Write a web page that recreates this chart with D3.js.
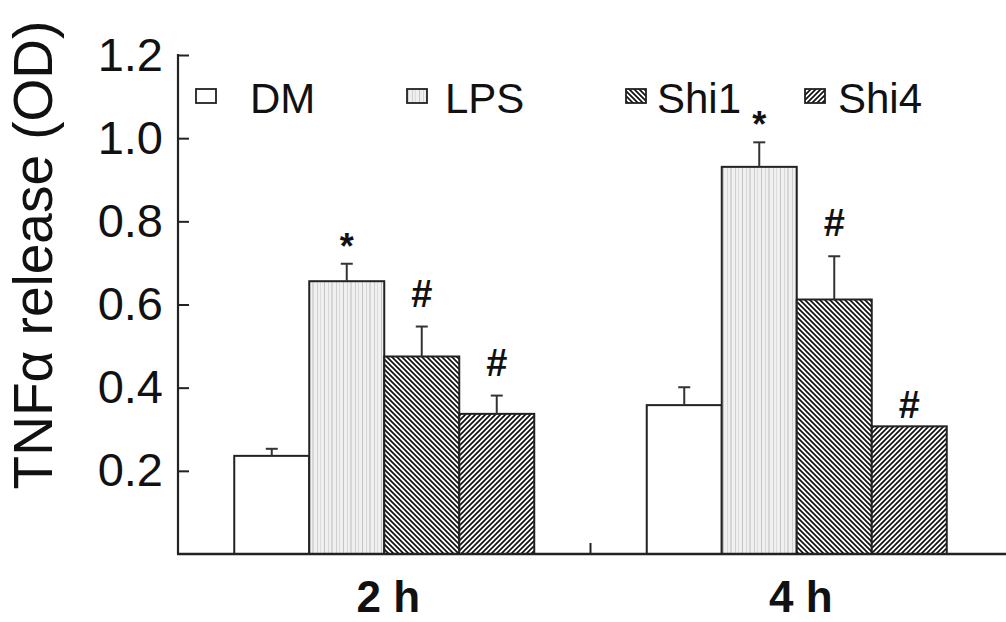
<!DOCTYPE html>
<html><head><meta charset="utf-8">
<script src="https://cdn.jsdelivr.net/npm/d3@7"></script>
<style>
body{margin:0;background:#fff}
svg{display:block}
text{font-family:"Liberation Sans",Arial,sans-serif;fill:#111}
</style>
</head><body>
<svg id="chart" width="1006" height="622"></svg>
<script>
// ---- data ----
const categories = ["2 h", "4 h"];
const seriesNames = ["DM", "LPS", "Shi1", "Shi4"];
const dmValues   = [0.236, 0.358];
const lpsValues  = [0.656, 0.931];
const shi1Values = [0.475, 0.612];
const shi4Values = [0.337, 0.307];
const dmErrors   = [0.017, 0.043];
const lpsErrors  = [0.042, 0.059];
const shi1Errors = [0.072, 0.104];
const shi4Errors = [0.044, 0.0];
const dmMarks    = ["", ""];
const lpsMarks   = ["*", "*"];
const shi1Marks  = ["#", "#"];
const shi4Marks  = ["#", "#"];
const yTickValues = [0.2, 0.4, 0.6, 0.8, 1.0, 1.2];
const yTitle = "TNFα release (OD)";

const valuesBySeries = [dmValues, lpsValues, shi1Values, shi4Values];
const errorsBySeries = [dmErrors, lpsErrors, shi1Errors, shi4Errors];
const marksBySeries  = [dmMarks, lpsMarks, shi1Marks, shi4Marks];
const fills = ["#ffffff", "url(#pLPS)", "url(#pShi1)", "url(#pShi4)"];

const rows = [];
categories.forEach((c, ci) => seriesNames.forEach((s, si) => rows.push({
  cat: c, series: s, si, value: valuesBySeries[si][ci], err: errorsBySeries[si][ci], mark: marksBySeries[si][ci]
})));

// ---- layout ----
const svg = d3.select("#chart");
const mLeft = 178, mRight = 1003, mTop = 55, mBottom = 554;

const y = d3.scaleLinear().domain([0, 1.2]).range([mBottom, mTop]);
const x0 = d3.scaleBand().domain(categories).range([mLeft, mRight]).padding(0);
const x1 = d3.scaleBand().domain(seriesNames).range([0, x0.bandwidth()]).paddingInner(0).paddingOuter(0.75);

// ---- patterns ----
const defs = svg.append("defs");
const pL = defs.append("pattern").attr("id", "pLPS").attr("patternUnits", "userSpaceOnUse")
  .attr("width", 19).attr("height", 10);
pL.append("rect").attr("width", 19).attr("height", 10).attr("fill", "#f0f0f0");
[[1.5, "#c4c4c4"], [5.5, "#d6d6d6"], [9, "#bdbdbd"], [13.5, "#cfcfcf"], [16.5, "#dcdcdc"]].forEach(([px, col]) =>
  pL.append("line").attr("x1", px).attr("x2", px).attr("y1", 0).attr("y2", 10).attr("stroke", col).attr("stroke-width", 1));

const p1 = defs.append("pattern").attr("id", "pShi1").attr("patternUnits", "userSpaceOnUse")
  .attr("width", 5).attr("height", 5);
p1.append("rect").attr("width", 5).attr("height", 5).attr("fill", "#fff");
p1.append("path").attr("d", "M-1,-1L6,6M-1,4L1,6M4,-1L6,1").attr("stroke", "#111").attr("stroke-width", 1.7);

const p4 = defs.append("pattern").attr("id", "pShi4").attr("patternUnits", "userSpaceOnUse")
  .attr("width", 5).attr("height", 5);
p4.append("rect").attr("width", 5).attr("height", 5).attr("fill", "#fff");
p4.append("path").attr("d", "M-1,6L6,-1M-1,1L1,-1M4,6L6,4").attr("stroke", "#111").attr("stroke-width", 1.7);

// ---- bars ----
const barG = svg.append("g");
barG.selectAll("rect.bar").data(rows).join("rect").attr("class", "bar")
  .attr("x", d => x0(d.cat) + x1(d.series))
  .attr("y", d => y(d.value))
  .attr("width", x1.bandwidth())
  .attr("height", d => y(0) - y(d.value))
  .attr("fill", d => fills[d.si])
  .attr("stroke", "#222").attr("stroke-width", 2);

// error bars
const errRows = rows.filter(d => d.err > 0);
const cx = d => x0(d.cat) + x1(d.series) + x1.bandwidth() / 2;
barG.selectAll("line.err").data(errRows).join("line").attr("class", "err")
  .attr("x1", cx).attr("x2", cx)
  .attr("y1", d => y(d.value)).attr("y2", d => y(d.value + d.err))
  .attr("stroke", "#333").attr("stroke-width", 2);
barG.selectAll("line.cap").data(errRows).join("line").attr("class", "cap")
  .attr("x1", d => cx(d) - 6).attr("x2", d => cx(d) + 6)
  .attr("y1", d => y(d.value + d.err)).attr("y2", d => y(d.value + d.err))
  .attr("stroke", "#333").attr("stroke-width", 2);

// significance marks
const markRows = rows.filter(d => d.mark);
svg.selectAll("text.mark").data(markRows).join("text").attr("class", "mark")
  .attr("x", cx)
  .attr("y", d => {
    const t = y(d.value + d.err);
    if (d.mark === "*") return t - 5;
    return t - (d.err > 0 ? 20 : 8);
  })
  .attr("text-anchor", "middle")
  .attr("font-size", d => d.mark === "*" ? 36 : 38)
  .attr("font-weight", "bold")
  .text(d => d.mark);

// ---- axes ----
const yAxis = d3.axisLeft(y).tickValues(yTickValues).tickFormat(d3.format(".1f"))
  .tickSize(-11).tickSizeOuter(0).tickPadding(15);
const gy = svg.append("g").attr("transform", `translate(${mLeft},0)`).call(yAxis);
gy.select(".domain").remove();
gy.selectAll(".tick line").attr("stroke", "#222").attr("stroke-width", 2);
gy.selectAll(".tick text").attr("font-size", 47).attr("fill", "#111")
  .style("font-family", '"Liberation Sans",Arial,sans-serif');
svg.append("line").attr("x1", mLeft).attr("x2", mLeft).attr("y1", y(1.2) - 1).attr("y2", mBottom)
  .attr("stroke", "#222").attr("stroke-width", 2.2);

const xAxis = d3.axisBottom(x0).tickSize(0).tickPadding(27);
const gx = svg.append("g").attr("transform", `translate(4,${mBottom})`).call(xAxis);
gx.select(".domain").remove();
gx.selectAll(".tick text").attr("font-size", 44).attr("font-weight", "bold").attr("fill", "#111")
  .style("font-family", '"Liberation Sans",Arial,sans-serif');
svg.append("line").attr("x1", mLeft - 1).attr("x2", 1006).attr("y1", mBottom).attr("y2", mBottom)
  .attr("stroke", "#222").attr("stroke-width", 2.5);
// boundary tick between categories
svg.selectAll("line.xb").data(categories.slice(1)).join("line").attr("class", "xb")
  .attr("x1", d => x0(d)).attr("x2", d => x0(d))
  .attr("y1", mBottom).attr("y2", mBottom - 11)
  .attr("stroke", "#222").attr("stroke-width", 2);

// y title
svg.append("text").attr("transform", "rotate(-90)")
  .attr("x", -255).attr("y", 52).attr("text-anchor", "middle")
  .attr("font-size", 55).text(yTitle);

// ---- legend ----
const legendBoxX = [196, 407, 626, 805];
const legendTextX = [250, 445, 657, 838];
const lg = svg.append("g");
seriesNames.forEach((s, i) => {
  lg.append("rect").attr("x", legendBoxX[i]).attr("y", 89).attr("width", 20).attr("height", 14)
    .attr("fill", fills[i]).attr("stroke", "#222").attr("stroke-width", 1.8);
  lg.append("text").attr("x", legendTextX[i]).attr("y", 113).attr("font-size", 42).text(s);
});
</script>
</body></html>
